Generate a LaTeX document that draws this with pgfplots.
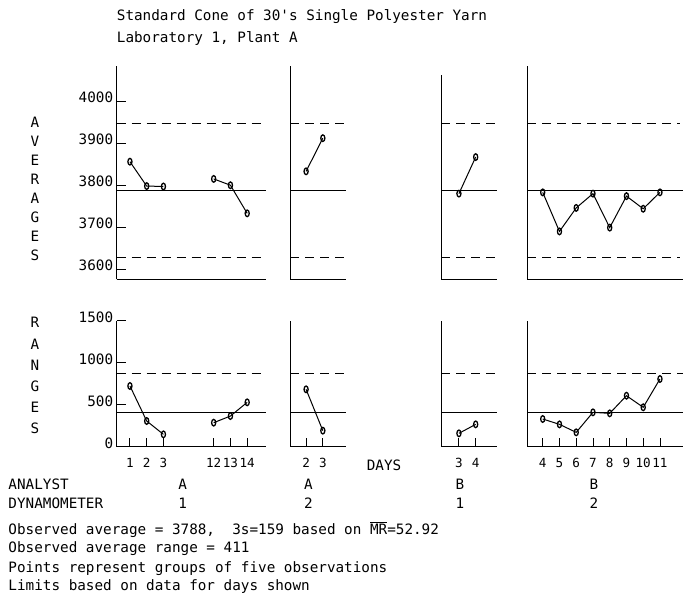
\documentclass[border=0pt]{standalone}
\usepackage{fontspec}
\newfontfamily\pmono{DejaVu Sans Mono}
\usepackage{pgfplots}
\pgfplotsset{compat=1.18}
\newcommand\pf{\pmono\fontsize{14.3}{16}\selectfont}
\newcommand\pfs{\pmono\fontsize{12.6}{14}\selectfont}

\pgfplotsset{
  panel/.style={x=16.75pt, anchor=south west, clip=false,
    axis x line*=bottom, axis y line*=left,
    axis line style={-, line width=1pt},
    tick align=inside, major tick length=9pt,
    tick style={black, line width=0.9pt},
    ticklabel style={font=\pf},
    yticklabel style={yshift=3.5pt}},
  avg/.style={panel, y=0.42pt, ymin=3576, ymax=4085, xtick=\empty},
  rng/.style={panel, y=0.084pt, ymin=0, ymax=1500,
    xticklabel style={yshift=-8pt, font=\pfs}},
  series/.style={black, line width=1pt, mark=o, mark size=3.3pt,
    mark options={xscale=0.62, solid, fill=white, line width=1.3pt}},
  ctr/.style={black, line width=1pt, no marks},
  lim/.style={black, line width=1pt, no marks, dash pattern=on 9pt off 6pt},
}

\begin{document}
\begin{tikzpicture}
\useasboundingbox (0,0) rectangle (685pt,611pt);

% titles
\node[anchor=west, inner sep=0, font=\pf] at (116.7pt,594.3pt) {Standard Cone of 30's Single Polyester Yarn};
\node[anchor=west, inner sep=0, font=\pf] at (116.7pt,572pt) {Laboratory 1, Plant A};

% ---------- averages ----------
\begin{axis}[avg, at={(116.7pt,331.7pt)}, xmin=-0.79, xmax=8.12,
  ytick={3600,3700,3800,3900,4000}, yticklabels={3600,3700,3800,3900,4000}]
\addplot[lim] coordinates {(-0.79,3947) (8.12,3947)};
\addplot[ctr] coordinates {(-0.79,3788) (8.12,3788)};
\addplot[lim] coordinates {(-0.79,3629) (8.12,3629)};
\addplot[series] coordinates {(0,3856) (1,3798) (2,3797)};
\addplot[series] coordinates {(5,3815) (6,3800) (7,3733)};
\end{axis}

\begin{axis}[avg, at={(290pt,331.7pt)}, xmin=-0.96, xmax=2.37, ytick=\empty]
\addplot[lim] coordinates {(-0.96,3947) (2.37,3947)};
\addplot[ctr] coordinates {(-0.96,3788) (2.37,3788)};
\addplot[lim] coordinates {(-0.96,3629) (2.37,3629)};
\addplot[series] coordinates {(0,3833) (1,3912)};
\end{axis}

\begin{axis}[avg, at={(441pt,331.7pt)}, xmin=-1.07, xmax=2.27, ymax=4063, ytick=\empty]
\addplot[lim] coordinates {(-1.07,3947) (2.27,3947)};
\addplot[ctr] coordinates {(-1.07,3788) (2.27,3788)};
\addplot[lim] coordinates {(-1.07,3629) (2.27,3629)};
\addplot[series] coordinates {(0,3780) (1,3867)};
\end{axis}

\begin{axis}[avg, at={(527.3pt,331.7pt)}, xmin=-0.92, xmax=8.38, ytick=\empty]
\addplot[lim] coordinates {(-0.92,3947) (8.2,3947)};
\addplot[ctr] coordinates {(-0.92,3788) (8.38,3788)};
\addplot[lim] coordinates {(-0.92,3629) (8.2,3629)};
\addplot[series] coordinates {(0,3783) (1,3690) (2,3746) (3,3780) (4,3699) (5,3774) (6,3744) (7,3783)};
\end{axis}

% ---------- ranges ----------
\begin{axis}[rng, at={(116.7pt,164.3pt)}, xmin=-0.79, xmax=8.12,
  xtick={0,1,2,5,6,7}, xticklabels={1,2,3,12,13,14},
  ytick={0,500,1000,1500}, yticklabels={0,500,1000,1500}]
\addplot[lim] coordinates {(-0.79,869) (8.12,869)};
\addplot[ctr] coordinates {(-0.79,411) (8.12,411)};
\addplot[series] coordinates {(0,723) (1,306) (2,147)};
\addplot[series] coordinates {(5,286) (6,365) (7,528)};
\end{axis}

\begin{axis}[rng, at={(290pt,164.3pt)}, xmin=-0.96, xmax=2.37,
  xtick={0,1}, xticklabels={2,3}, ytick=\empty]
\addplot[lim] coordinates {(-0.96,869) (2.37,869)};
\addplot[ctr] coordinates {(-0.96,411) (2.37,411)};
\addplot[series] coordinates {(0,683) (1,191)};
\end{axis}

\begin{axis}[rng, at={(441pt,164.3pt)}, xmin=-1.07, xmax=2.27,
  xtick={0,1}, xticklabels={3,4}, ytick=\empty]
\addplot[lim] coordinates {(-1.07,869) (2.27,869)};
\addplot[ctr] coordinates {(-1.07,411) (2.27,411)};
\addplot[series] coordinates {(0,159) (1,266)};
\end{axis}

\begin{axis}[rng, at={(527.3pt,164.3pt)}, xmin=-0.92, xmax=8.38,
  xtick={0,1,2,3,4,5,6,7}, xticklabels={4,5,6,7,8,9,10,11}, ytick=\empty]
\addplot[lim] coordinates {(-0.92,869) (8.38,869)};
\addplot[ctr] coordinates {(-0.92,411) (8.38,411)};
\addplot[series] coordinates {(0,330) (1,266) (2,171) (3,409) (4,397) (5,607) (6,469) (7,806)};
\end{axis}

% vertical side labels
\foreach \c [count=\i from 0] in {A,V,E,R,A,G,E,S}
  \node[font=\pf, inner sep=0] at (35pt,{611pt-122pt-19.1pt*\i}) {\c};
\foreach \c [count=\i from 0] in {R,A,N,G,E,S}
  \node[font=\pf, inner sep=0] at (35pt,{611pt-322.7pt-21.1pt*\i}) {\c};

% row labels
\node[font=\pf, inner sep=0] at (384pt,146pt) {DAYS};
\node[anchor=west, font=\pf, inner sep=0] at (8.3pt,126.7pt) {ANALYST};
\node[anchor=west, font=\pf, inner sep=0] at (8.3pt,107.7pt) {DYNAMOMETER};
\foreach \xx/\a/\d in {182.7/A/1, 308.3/A/2, 460/B/1, 594/B/2} {
  \node[font=\pf, inner sep=0] at (\xx pt,126.7pt) {\a};
  \node[font=\pf, inner sep=0] at (\xx pt,107.7pt) {\d};
}

% notes
\node[anchor=west, font=\pf, inner sep=0] at (8.3pt,81pt)
  {Observed average = 3788,\ \ 3s=159 based on \rlap{\raisebox{12pt}{\rule{17pt}{0.9pt}}}MR=52.92};
\node[anchor=west, font=\pf, inner sep=0] at (8.3pt,62pt) {Observed average range = 411};
\node[anchor=west, font=\pf, inner sep=0] at (8.3pt,42.7pt) {Points represent groups of five observations};
\node[anchor=west, font=\pf, inner sep=0] at (8.3pt,24.3pt) {Limits based on data for days shown};
\end{tikzpicture}
\end{document}
